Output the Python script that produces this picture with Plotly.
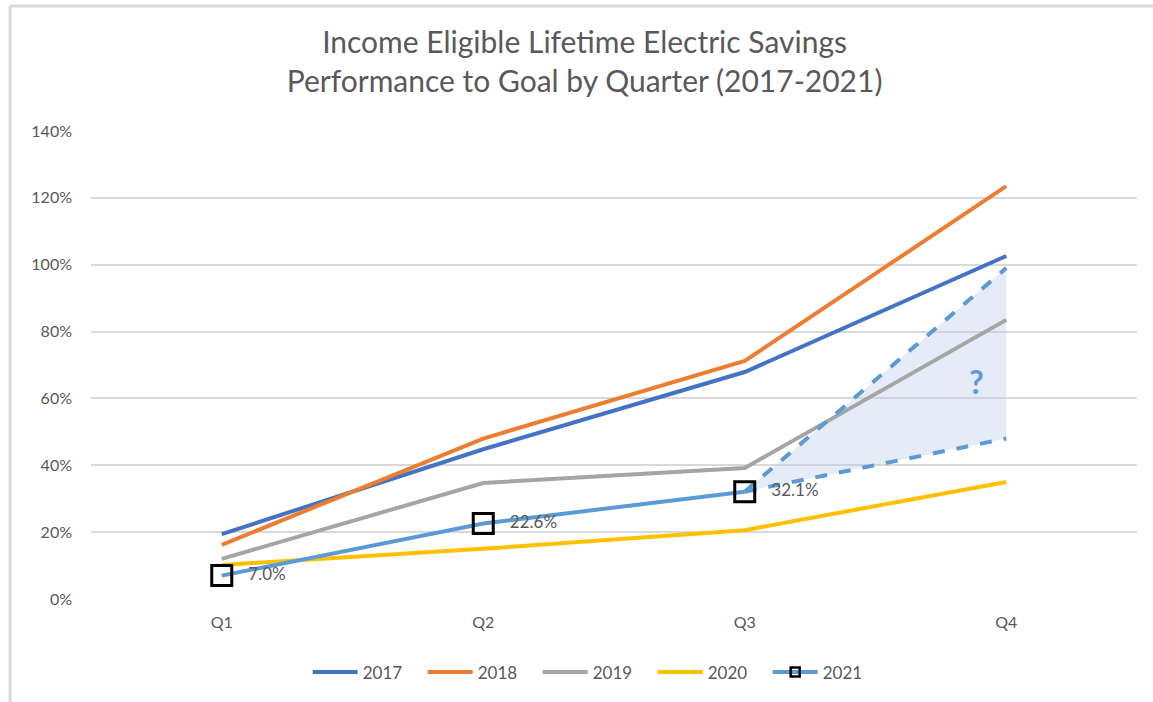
import plotly.graph_objects as go

quarters = ["Q1", "Q2", "Q3", "Q4"]
s2017 = [19.4, 44.8, 67.9, 102.6]
s2018 = [16.2, 48.0, 71.2, 123.5]
s2019 = [12.0, 34.7, 39.2, 83.5]
s2020 = [10.2, 15.0, 20.6, 35.0]
s2021 = [7.0, 22.6, 32.1]
proj_x = ["Q3", "Q4"]
proj_high = [32.1, 99.0]
proj_low = [32.1, 48.0]
labels2021 = ["   7.0%", "   22.6%", "   32.1%"]
yticks = [0, 20, 40, 60, 80, 100, 120, 140]
yticklabels = ["0%", "20%", "40%", "60%", "80%", "100%", "120%", "140%"]

TXT = "#595959"
FONT = "Lato, 'Open Sans', sans-serif"

fig = go.Figure()

fig.add_trace(go.Scatter(
    x=[proj_x[0], proj_x[1], proj_x[1], proj_x[0]],
    y=[proj_high[0], proj_high[1], proj_low[1], proj_low[0]],
    fill="toself", fillcolor="rgba(180,199,231,0.35)",
    line=dict(width=0), mode="lines", showlegend=False, hoverinfo="skip"))

series = [("2017", s2017, "#4472C4"), ("2018", s2018, "#ED7D31"),
          ("2019", s2019, "#A5A5A5"), ("2020", s2020, "#FFC000")]
for name, vals, col in series:
    fig.add_trace(go.Scatter(x=quarters, y=vals, name=name, mode="lines",
                             line=dict(color=col, width=4)))

for proj in (proj_high, proj_low):
    fig.add_trace(go.Scatter(x=proj_x, y=proj, mode="lines", showlegend=False,
                             line=dict(color="#5B9BD5", width=4, dash="dash"),
                             hoverinfo="skip"))

fig.add_trace(go.Scatter(
    x=quarters[:3], y=s2021, name="2021", mode="lines+markers+text",
    showlegend=False,
    line=dict(color="#5B9BD5", width=4),
    marker=dict(symbol="square-open", size=20, color="black",
                line=dict(color="black", width=3)),
    text=labels2021, textposition="middle right",
    textfont=dict(family=FONT, size=17, color=TXT)))

fig.add_trace(go.Scatter(
    x=[None], y=[None], name="2021", mode="lines+markers",
    line=dict(color="#5B9BD5", width=4),
    marker=dict(symbol="square-open", size=9, color="black",
                line=dict(color="black", width=2.5))))

fig.add_annotation(x="Q4", y=65, text="<b>?</b>", showarrow=False,
                   xshift=-30, font=dict(family=FONT, size=32, color="#5B9BD5"))

fig.update_layout(
    width=1153, height=702,
    paper_bgcolor="white", plot_bgcolor="white",
    margin=dict(l=91, r=16, t=131, b=103),
    title=dict(text="Income Eligible Lifetime Electric Savings<br>Performance to Goal by Quarter (2017-2021)",
               x=0.507, xanchor="center", y=0.924, yanchor="top",
               font=dict(family=FONT, size=30, color=TXT)),
    font=dict(family=FONT, size=15, color=TXT),
    legend=dict(orientation="h", x=0.482, xanchor="center", y=-0.1185, yanchor="top",
                font=dict(family=FONT, size=17, color=TXT), itemwidth=45,
                entrywidth=55, traceorder="normal"),
    xaxis=dict(type="category", categoryorder="array", categoryarray=quarters,
               range=[-0.5, 3.5],
               showgrid=False, showline=False, ticks="", zeroline=False,
               ticklabelstandoff=12,
               tickfont=dict(size=16, color=TXT)),
    yaxis=dict(range=[0, 140], tickvals=yticks, ticktext=yticklabels,
               showgrid=True, gridcolor="#D9D9D9", gridwidth=1.5,
               zeroline=False, showline=False, ticks="", ticklabelstandoff=18,
               tickfont=dict(size=16, color=TXT)),
    shapes=[
        dict(type="line", xref="paper", yref="paper", x0=-0.0774, x1=1.02,
             y0=1.267, y1=1.267, line=dict(color="#D9D9D9", width=3)),
        dict(type="line", xref="paper", yref="paper", x0=-0.0774, x1=-0.0774,
             y0=1.267, y1=-0.23, line=dict(color="#D9D9D9", width=3)),
    ],
)

fig.write_html("out.html", config={"displayModeBar": False},
               post_script="document.body.style.margin='0';")
